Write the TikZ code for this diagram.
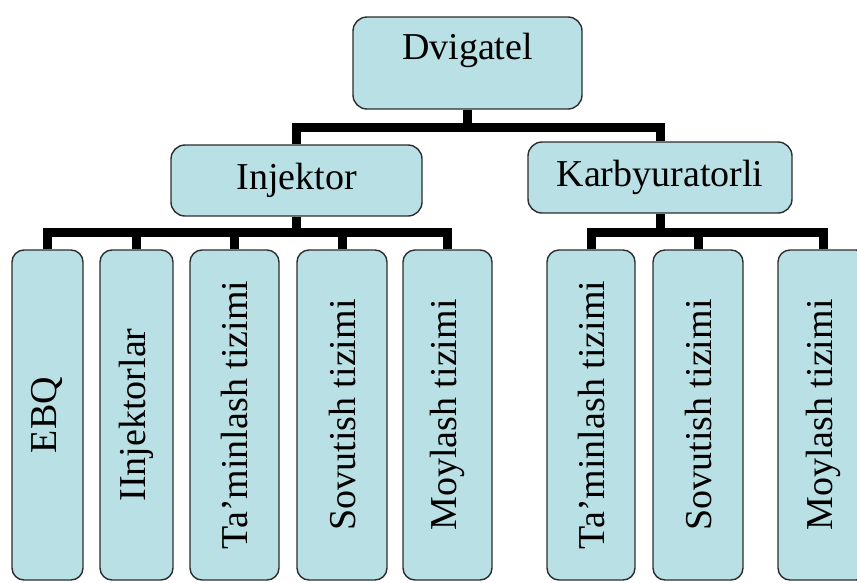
\documentclass[tikz,border=0pt]{standalone}
\usepackage{fontspec}
\setmainfont{Liberation Serif}
\usepackage{tikz}
\usetikzlibrary{positioning}
\definecolor{boxfill}{RGB}{185,224,228}
\definecolor{boxline}{RGB}{45,45,45}
\tikzstyle{block} = [rectangle, draw=boxline, line width=1.4pt, fill=boxfill,
    rounded corners=14pt, inner sep=0pt, font=\fontsize{38}{44}\selectfont]
\tikzstyle{tall} = [block, minimum height=330pt, rounded corners=12pt]
\tikzstyle{tree} = [draw, line width=9pt]

\begin{document}
\begin{tikzpicture}[x=1pt,y=-1pt]
    \useasboundingbox (0,0) rectangle (857,582);
    % Place nodes
    \node [block, minimum width=229pt, minimum height=92pt,
        text height=26pt, text depth=34pt] (dv) at (467.5,63) {Dvigatel};
    \node [block, minimum width=251pt, minimum height=71pt] (inj) at (296.5,180.5) {Injektor};
    \node [block, minimum width=264pt, minimum height=71pt] (kar) at (660,177.5) {Karbyuratorli};
    % injektor branch
    \node [tall, minimum width=71pt] (ebq) at (47.5,415) {\rotatebox{90}{EBQ}};
    \node [tall, minimum width=73pt] (ijl) at (136.5,415) {\rotatebox{90}{IInjektorlar}};
    \node [tall, minimum width=89pt] (tamA) at (234.5,415) {\rotatebox{90}{Ta’minlash tizimi}};
    \node [tall, minimum width=90pt] (sovA) at (342,415) {\rotatebox{90}{Sovutish tizimi}};
    \node [tall, minimum width=89pt] (moyA) at (447.5,415) {\rotatebox{90}{Moylash tizimi}};
    % karbyurator branch
    \node [tall, minimum width=88pt] (tamB) at (591,415) {\rotatebox{90}{Ta’minlash tizimi}};
    \node [tall, minimum width=90pt] (sovB) at (698,415) {\rotatebox{90}{Sovutish tizimi}};
    \node [tall, minimum width=90pt] (moyB) at (823,415) {\rotatebox{90}{Moylash tizimi}};
    % Draw edges
    \coordinate (barA) at (0,127);
    \coordinate (barB) at (0,232);
    \path [tree] (dv.south) -- (dv.south |- barA);
    \path [tree] (inj.north) -- (inj.north |- barA) -| (kar.north);
    \path [tree] (inj.south) -- (inj.south |- barB);
    \path [tree] (ebq.north) -- (ebq.north |- barB) -| (moyA.north);
    \foreach \n in {ijl,tamA,sovA}
        \path [tree] (\n.north) -- (\n.north |- barB);
    \path [tree] (kar.south) -- (kar.south |- barB);
    \path [tree] (tamB.north) -- (tamB.north |- barB) -| (moyB.north);
    \path [tree] (sovB.north) -- (sovB.north |- barB);
\end{tikzpicture}
\end{document}
